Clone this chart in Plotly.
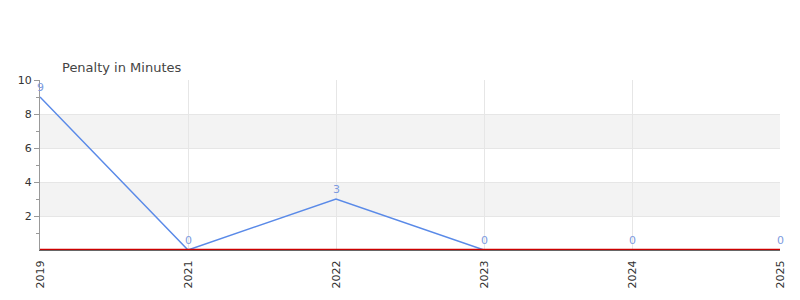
import plotly.graph_objects as go

years = ["2019", "2021", "2022", "2023", "2024", "2025"]
penalty = [9, 0, 3, 0, 0, 0]
y_ticks = [2, 4, 6, 8, 10]
bands = [(2, 4), (6, 8)]

fig = go.Figure()
fig.add_trace(go.Scatter(
    x=years, y=penalty, mode="lines",
    line=dict(color="#5a8ae8", width=1.5),
    cliponaxis=False, hoverinfo="x+y",
))
for i, v in enumerate(penalty):
    fig.add_annotation(x=i, y=v, text=str(v), showarrow=False, yanchor="bottom", yshift=1,
                       font=dict(size=11, color="#7d9be0", family="DejaVu Sans"))

for lo, hi in bands:
    fig.add_shape(type="rect", xref="paper", yref="y", x0=0, x1=1, y0=lo, y1=hi,
                  fillcolor="#f3f3f3", line_width=0, layer="below")
fig.add_shape(type="line", xref="paper", yref="y", x0=0, x1=1, y0=0.04, y1=0.04,
              line=dict(color="#cc0000", width=1.2))

fig.update_layout(
    width=800, height=300,
    margin=dict(l=40, r=20, t=80, b=50),
    paper_bgcolor="white", plot_bgcolor="white",
    showlegend=False,
    font=dict(family="DejaVu Sans", size=11, color="#333"),
    title=dict(text="Penalty in Minutes", x=62/800, xanchor="left", y=1-67/300, yanchor="middle",
               font=dict(size=13, color="#444", family="DejaVu Sans")),
)
fig.update_xaxes(type="category", range=[0, len(years) - 1], showgrid=True, gridcolor="#e6e6e6",
                 tickangle=-90, showline=True, linecolor="#666", linewidth=1.2,
                 ticks="", ticklabelstandoff=5, tickfont=dict(size=11, color="#333"), zeroline=False)
fig.update_yaxes(range=[0, 10], tickvals=y_ticks, showgrid=True, gridcolor="#e6e6e6",
                 showline=True, linecolor="#999", linewidth=1, ticks="outside", ticklen=5,
                 tickcolor="#999", zeroline=False, tickfont=dict(size=11, color="#333"),
                 minor=dict(tickvals=[1, 3, 5, 7, 9], ticks="outside", ticklen=3, tickcolor="#999", showgrid=False))

fig.write_html("out.html")
